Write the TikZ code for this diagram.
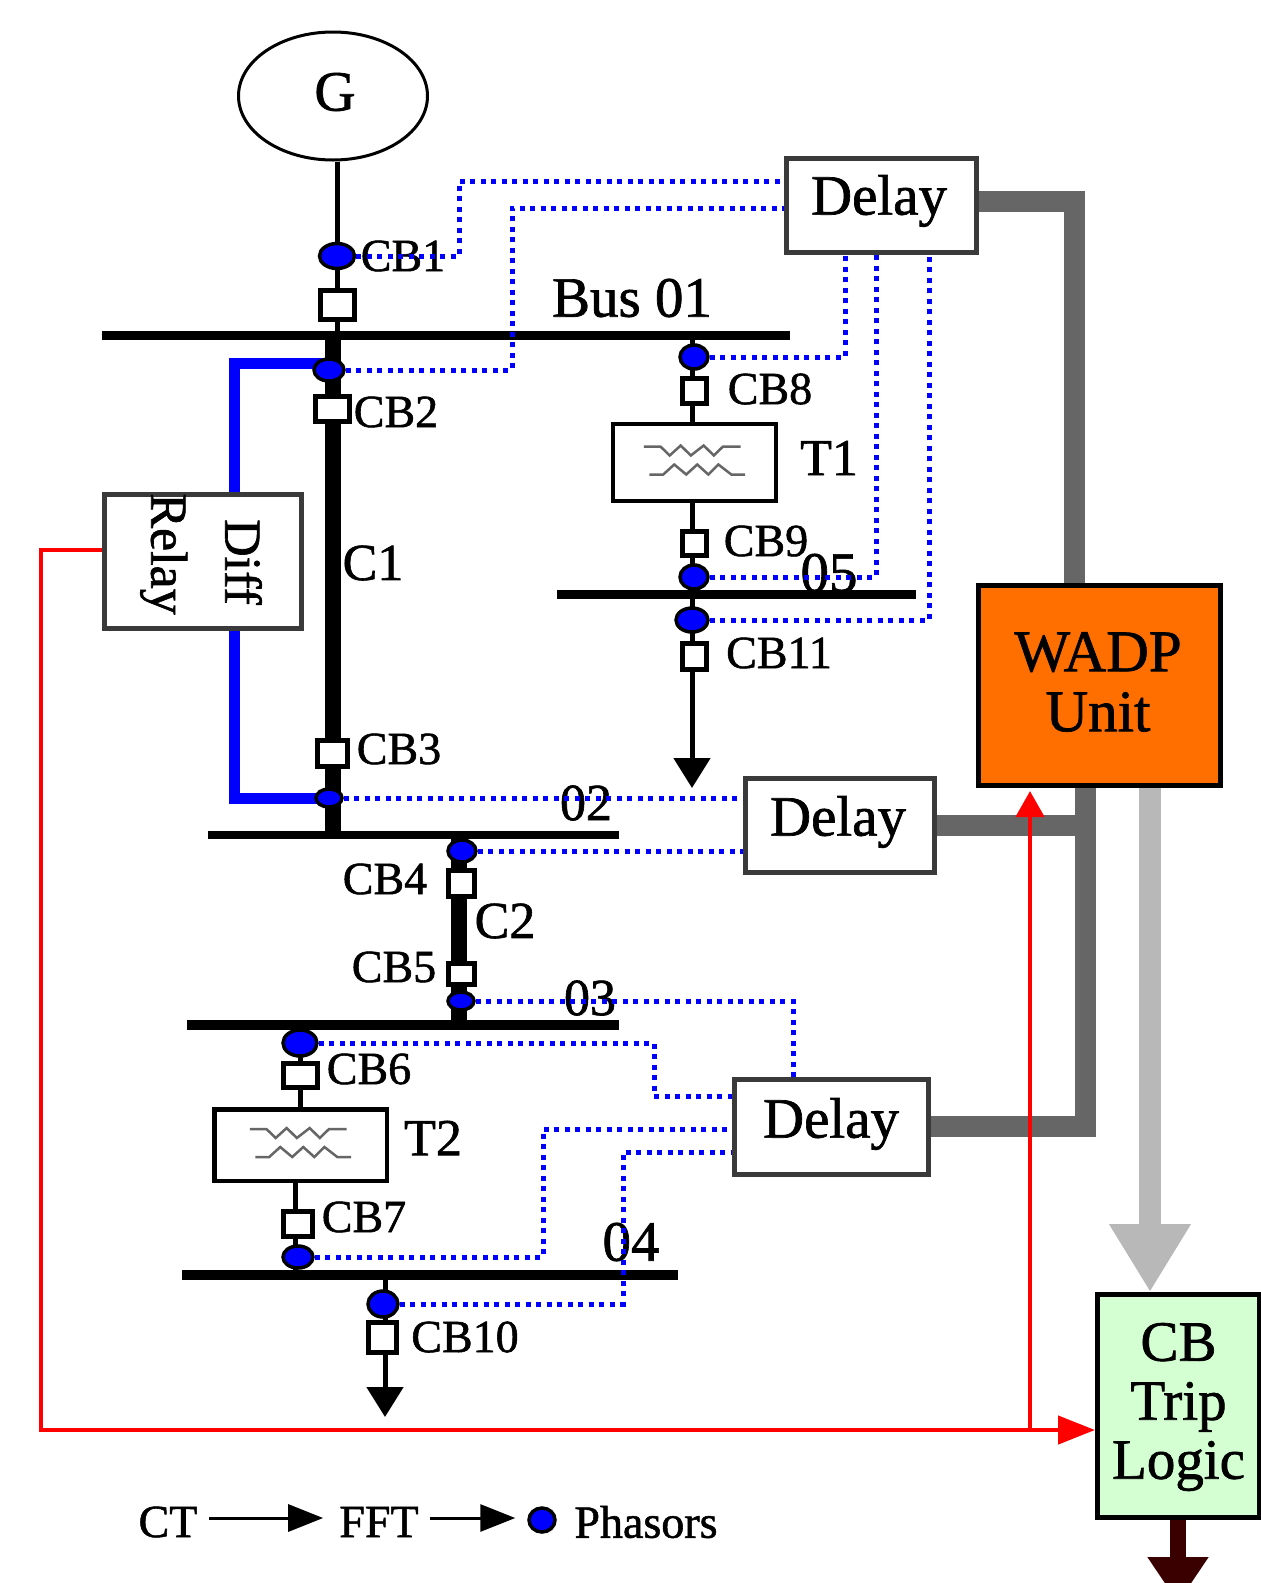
\documentclass[tikz,border=0pt]{standalone}
\usepackage{fontspec}
\setmainfont{Liberation Serif}[FakeBold=1.2]
\usepackage{tikz}
\usetikzlibrary{backgrounds}
\usetikzlibrary{arrows.meta}
\usetikzlibrary{shapes.geometric}
\definecolor{boxgray}{HTML}{3A3A3A}
\definecolor{wiregray}{HTML}{666666}
\definecolor{tripgray}{HTML}{B8B8B8}
\definecolor{wadporange}{HTML}{FF6F00}
\definecolor{tripgreen}{HTML}{D3FFD3}
\definecolor{outbrown}{HTML}{3A0000}
\newcommand{\labSmall}{\fontsize{46}{48}\selectfont}
\newcommand{\labMid}{\fontsize{52}{54}\selectfont}
\newcommand{\labBig}{\fontsize{57}{60}\selectfont}
\tikzstyle{scheme}=[x=1pt, y=-1pt]
\tikzstyle{bus}=[rectangle, inner sep=0pt, fill=black]
\tikzstyle{cb}=[rectangle, inner sep=0pt, draw, line width=5pt, fill=white]
\tikzstyle{phasor}=[ellipse, inner sep=0pt, draw, line width=3.5pt, fill=blue]
\tikzstyle{delay}=[rectangle, inner sep=0pt, draw=boxgray, line width=5pt, fill=white]
\tikzstyle{xfmr}=[rectangle, inner sep=0pt, draw, line width=4.5pt, fill=white]
\tikzstyle{lab}=[inner sep=0pt, font=\labSmall]
\tikzstyle{mlab}=[inner sep=0pt, font=\labMid]
\tikzstyle{blab}=[inner sep=0pt, font=\labBig]
\tikzstyle{leg}=[inner sep=11pt, font=\labSmall]
\tikzstyle{stem}=[-, line width=5pt]
\tikzstyle{cable}=[-, line width=16pt]
\tikzstyle{load}=[line width=5pt, -{Triangle[width=36pt,length=30pt]}]
\tikzstyle{legarrow}=[line width=3pt, -{Triangle[width=27pt,length=35pt]}]
\tikzstyle{dots}=[-, blue, line width=5pt, dash pattern=on 5pt off 5.5pt]
\tikzstyle{diff}=[-, blue, line width=11pt]
\tikzstyle{wire}=[-, wiregray, line width=21pt]
\tikzstyle{redline}=[red, line width=4.5pt]
\tikzstyle{winding}=[black!60, line width=2.5pt]
\newcommand{\windings}[1]{\draw[winding, shift={(#1)}, xscale=0.92] (-55,-16) -- (-37,-16) -- (-27,-7) -- (-15,-17) -- (-4,-7) -- (10,-17) -- (21,-7) -- (31,-16) -- (50,-16) (-49,12) -- (-34,12) -- (-22,2) -- (-9,12) -- (3,2) -- (15,12) -- (26,2) -- (40,12) -- (55,12);}
\begin{document}
\begin{tikzpicture}[scheme]
	\useasboundingbox (0,0) rectangle (1261,1583);
	\draw (333,96) node[ellipse, inner sep=0pt, draw, line width=3pt, minimum width=189, minimum height=128] (g) {};
	\draw (335,92) node[blab] (gl) {G};
	%%
	\draw (446,335) node[bus, minimum width=688, minimum height=9] (bus01) {};
	\draw (413.5,835) node[bus, minimum width=411, minimum height=8] (bus02) {};
	\draw (403,1025) node[bus, minimum width=432, minimum height=10] (bus03) {};
	\draw (430,1275) node[bus, minimum width=496, minimum height=10] (bus04) {};
	\draw (736.5,594) node[bus, minimum width=359, minimum height=9] (bus05) {};
	%%
	\draw (337.5,305) node[cb, minimum width=34, minimum height=29] (cb1) {};
	\draw (332.5,409) node[cb, minimum width=34, minimum height=25] (cb2) {};
	\draw (332.5,753.5) node[cb, minimum width=30, minimum height=26] (cb3) {};
	\draw (461.5,883.5) node[cb, minimum width=26, minimum height=26] (cb4) {};
	\draw (461.5,974) node[cb, minimum width=26, minimum height=21] (cb5) {};
	\draw (300.5,1075.5) node[cb, minimum width=34, minimum height=24] (cb6) {};
	\draw (298,1224) node[cb, minimum width=29, minimum height=25] (cb7) {};
	\draw (694.5,391) node[cb, minimum width=24, minimum height=25] (cb8) {};
	\draw (694.5,543.5) node[cb, minimum width=24, minimum height=24] (cb9) {};
	\draw (382.5,1337.5) node[cb, minimum width=28, minimum height=30] (cb10) {};
	\draw (694.5,656.5) node[cb, minimum width=24, minimum height=26] (cb11) {};
	%%
	\draw (337,256) node[phasor, minimum width=35, minimum height=25] (p1) {};
	\draw (329,370) node[phasor, minimum width=30, minimum height=22] (p2) {};
	\draw (329,798) node[phasor, minimum width=26, minimum height=18] (p3) {};
	\draw (462,851) node[phasor, minimum width=28, minimum height=22] (p4) {};
	\draw (461,1001) node[phasor, minimum width=26, minimum height=18] (p5) {};
	\draw (300,1043) node[phasor, minimum width=34, minimum height=26] (p6) {};
	\draw (298,1257) node[phasor, minimum width=30, minimum height=22] (p7) {};
	\draw (694,357) node[phasor, minimum width=28, minimum height=24] (p8) {};
	\draw (694,577) node[phasor, minimum width=28, minimum height=24] (p9) {};
	\draw (383,1304) node[phasor, minimum width=30, minimum height=26] (p10) {};
	\draw (692,620) node[phasor, minimum width=32, minimum height=24] (p11) {};
	%%
	\draw (694.5,462.5) node[xfmr, minimum width=163, minimum height=77] (t1) {};
	\draw (300.5,1145) node[xfmr, minimum width=172.5, minimum height=71.5] (t2) {};
	\windings{t1.center}
	\windings{t2.center}
	%%
	\draw (881.5,205.5) node[delay, minimum width=190.5, minimum height=94.5] (delay1) {};
	\draw (840,825.5) node[delay, minimum width=189.5, minimum height=94.5] (delay2) {};
	\draw (831.5,1127) node[delay, minimum width=194.5, minimum height=95.5] (delay3) {};
	\draw (879,201) node[blab] (dl1) {Delay};
	\draw (838,822) node[blab] (dl2) {Delay};
	\draw (831,1124) node[blab] (dl3) {Delay};
	\draw (203,561.5) node[delay, minimum width=197, minimum height=134] (relay) {};
	\draw (201,554) node[inner sep=0pt, rotate=-90, align=center, font=\fontsize{52}{74}\selectfont] (relayl) {\hspace{16pt}Diff\\Relay};
	\draw (1099.5,685.5) node[rectangle, inner sep=0pt, draw, line width=5pt, fill=wadporange, minimum width=242, minimum height=200] (wadp) {};
	\draw (1098,682) node[inner sep=0pt, align=center, font=\fontsize{59}{60}\selectfont] (wadpl) {WADP\\Unit};
	\draw (1178.5,1406) node[rectangle, inner sep=0pt, draw, line width=5pt, fill=tripgreen, minimum width=162, minimum height=223] (trip) {};
	\draw (1178.5,1407) node[inner sep=0pt, align=center, font=\fontsize{57}{59}\selectfont] (tripl) {CB\hspace{36pt}\\Trip\\Logic};
	%%
	\draw (403,256) node[lab] (l1) {CB1};
	\draw (396,412) node[lab] (l2) {CB2};
	\draw (399,749) node[lab] (l3) {CB3};
	\draw (385,879) node[lab] (l4) {CB4};
	\draw (394,967) node[lab] (l5) {CB5};
	\draw (369,1069) node[lab] (l6) {CB6};
	\draw (364,1217) node[lab] (l7) {CB7};
	\draw (770,389) node[lab] (l8) {CB8};
	\draw (766,541) node[lab] (l9) {CB9};
	\draw (465,1337) node[lab] (l10) {CB10};
	\draw (779,653) node[lab] (l11) {CB11};
	\draw (373,563) node[mlab] (c1) {C1};
	\draw (505,921) node[mlab] (c2) {C2};
	\draw (829,458) node[mlab] (lt1) {T1};
	\draw (433,1138) node[mlab] (lt2) {T2};
	\draw (632,298) node[blab] (b1) {Bus 01};
	\draw (586,803) node[mlab] (b2) {02};
	\draw (590,998) node[mlab] (b3) {03};
	\draw (631,1242) node[blab] (b4) {04};
	\draw (829,573) node[blab] (b5) {05};
	%%
	\draw (168,1522) node[leg] (ct) {CT};
	\draw (379,1522) node[leg] (fft) {FFT};
	\draw (542,1520) node[phasor, minimum width=26, minimum height=24] (pl) {};
	\draw (646,1522) node[lab] (phs) {Phasors};
	\coordinate (legy) at (0,1518);
	\draw[legarrow, shorten >=5pt] (ct.east |- legy) -- (fft.west |- legy);
	\draw[legarrow, shorten >=12pt] (fft.east |- legy) -- (pl.west |- legy);
	%%
	\coordinate (load1) at (692,788);
	\coordinate (load2) at (385,1417);
	\coordinate (c2x) at (459,900);
	\coordinate (t2x) at (295,1200);
	\coordinate (w1) at (1074,201);
	\coordinate (w2) at (1085,1126);
	\coordinate (lg) at (1150,1000);
	\coordinate (outx) at (1178,1603);
	\coordinate (r0) at (41,550);
	\coordinate (r1) at (41,1430);
	\coordinate (r2) at (1030,1430);
	\coordinate (dtop) at (234,363);
	\coordinate (dbot) at (234,798);
	\begin{scope}[on background layer]
		\draw[stem] (p1 |- g.south) -- (p1 |- bus01);
		\draw[cable] (cb2 |- bus01) -- (cb2 |- bus02);
		\draw[stem] (p11 |- bus01) -- (p11 |- bus05);
		\draw[load] (p11 |- bus05) -- (load1);
		\draw[cable] (c2x |- bus02) -- (c2x |- bus03);
		\draw[stem] (p6 |- bus03) -- (p6 |- t2.north);
		\draw[stem] (t2x |- t2.south) -- (t2x |- bus04);
		\draw[load] (load2 |- bus04) -- (load2);
		%%
		\draw[diff] (p2 |- dtop) -- (dtop) -- (dtop |- relay.north);
		\draw[diff] (dtop |- relay.south) -- (dbot) -- (p3 |- dbot);
		\draw[wire] (delay1.east |- w1) -- (w1) -- (w1 |- wadp.north);
		\draw[wire] (delay2.east) -- (delay2.east -| w2);
		\draw[wire] (delay3.east |- w2) -- (w2) -- (w2 |- wadp.south);
		\draw[line width=22pt, tripgray, -{Triangle[width=77pt,length=68pt]}] (lg |- wadp.south) -- (lg |- trip.north);
		\draw[line width=16pt, outbrown, -{Triangle[width=58pt,length=46pt]}] (trip.south -| outx) -- (outx);
		%%
		\draw[redline, -{Triangle[width=28pt,length=37pt]}] (relay.west |- r0) -- (r0) -- (r1) -- (trip.west |- r1);
		\draw[redline, shorten >=3pt, -{Triangle[width=28pt,length=26pt]}] (r2) -- (r2 |- wadp.south);
	\end{scope}
	%%
	\coordinate (d1a) at (459,181);
	\coordinate (d2a) at (512,208);
	\coordinate (d8a) at (845,300);
	\coordinate (d9a) at (876,300);
	\coordinate (d11a) at (929,300);
	\coordinate (d5a) at (793,1000);
	\coordinate (d6a) at (654,1096);
	\coordinate (d7a) at (543,1129);
	\coordinate (d10a) at (623,1152);
	\draw[dots] (p1) -| (d1a) -- (d1a -| delay1.west);
	\draw[dots] (p2) -| (d2a) -- (d2a -| delay1.west);
	\draw[dots] (p8) -| (d8a |- delay1.south);
	\draw[dots] (p9) -| (d9a |- delay1.south);
	\draw[dots] (p11) -| (d11a |- delay1.south);
	\draw[dots] (p3) -- (p3 -| delay2.west);
	\draw[dots] (p4) -- (p4 -| delay2.west);
	\draw[dots] (p5) -| (d5a |- delay3.north);
	\draw[dots] (p6) -| (d6a) -- (d6a -| delay3.west);
	\draw[dots] (p7) -| (d7a) -- (d7a -| delay3.west);
	\draw[dots] (p10) -| (d10a) -- (d10a -| delay3.west);
\end{tikzpicture}
\end{document}
